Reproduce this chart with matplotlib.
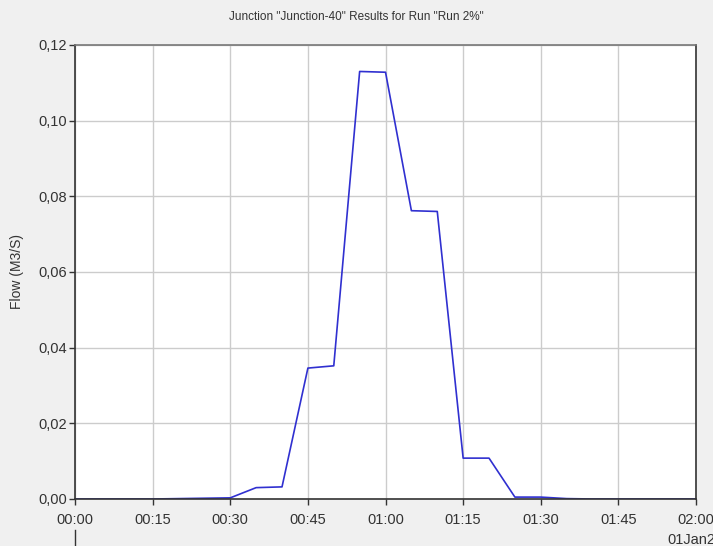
import matplotlib
matplotlib.use("Agg")
import matplotlib.pyplot as plt
from matplotlib.ticker import FuncFormatter, MultipleLocator
from matplotlib.lines import Line2D

plt.rcParams['font.family'] = ['Liberation Sans Narrow', 'Liberation Sans', 'DejaVu Sans']

time_min = [0, 5, 10, 15, 20, 25, 30, 35, 40, 45, 50, 55, 60, 65, 70, 75, 80, 85, 90, 95, 100, 105, 110, 115, 120]
flow = [0.0, 0.0, 0.0, 0.0, 0.0001, 0.0002, 0.0003, 0.0030, 0.0032, 0.0346, 0.0352, 0.1130, 0.1128,
        0.0762, 0.0760, 0.0108, 0.0108, 0.0005, 0.0005, 0.0001, 0.0, 0.0, 0.0, 0.0, 0.0]
title = 'Junction "Junction-40" Results for Run "Run 2%"'
ylabel = "Flow (M3/S)"

fig = plt.figure(figsize=(7.13, 5.46), dpi=100, facecolor="#f0f0f0")
ax = fig.add_axes([0.1052, 0.0861, 0.8710, 0.8315])
ax.set_facecolor("white")
ax.plot(time_min, flow, color="#3030d0", lw=1.2)
ax.set_xlim(0, 120)
ax.set_ylim(0, 0.12)
ax.xaxis.set_major_locator(MultipleLocator(15))
ax.yaxis.set_major_locator(MultipleLocator(0.02))
ax.xaxis.set_major_formatter(FuncFormatter(lambda v, p: f"{int(v)//60:02d}:{int(v)%60:02d}"))
ax.yaxis.set_major_formatter(FuncFormatter(lambda v, p: f"{v:.2f}".replace(".", ",")))
ax.grid(True, color="#cccccc", lw=1)
ax.set_axisbelow(True)
for s in ax.spines.values():
    s.set_color("#333333")
    s.set_linewidth(1.2)
ax.spines['top'].set_color("#777777")
ax.tick_params(direction="out", length=4, width=1, color="#333333", labelsize=10.5, labelcolor="#333333", pad=2)
ax.tick_params(axis="x", pad=6)
ax.set_ylabel(ylabel, fontsize=10, color="#333333", labelpad=10)
fig.text(0.5, 0.969, title, ha="center", va="center", fontsize=8.5, color="#333333")
fig.text(0.936, 0.011, "01Jan2", ha="left", va="center", fontsize=10.5, color="#333333")
fig.add_artist(Line2D([0.1052, 0.1052], [0.0, 0.03], color="#333333", lw=1, transform=fig.transFigure))
fig.savefig("out.png", dpi=100, facecolor=fig.get_facecolor())
